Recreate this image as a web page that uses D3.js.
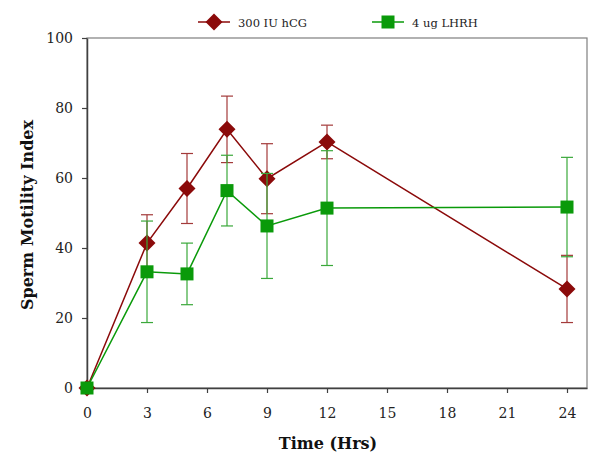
<!DOCTYPE html>
<html><head><meta charset="utf-8">
<script src="https://cdn.jsdelivr.net/npm/d3@7"></script>
<style>body{margin:0;background:#fff}svg{display:block}</style>
</head><body>
<script>
const times = [0, 3, 5, 7, 9, 12, 24];
const hcgMean = [0, 41.4, 57.0, 73.9, 59.8, 70.3, 28.3];
const hcgErr  = [0, 8.1, 10.0, 9.5, 10.0, 4.8, 9.6];
const lhrhMean = [0, 33.2, 32.6, 56.4, 46.3, 51.4, 51.7];
const lhrhErr  = [0, 14.5, 8.8, 10.1, 15.0, 16.4, 14.2];
const xTicks = [0, 3, 6, 9, 12, 15, 18, 21, 24];
const yTicks = [0, 20, 40, 60, 80, 100];
const seriesNames = ["300 IU hCG", "4 ug LHRH"];

const W = 600, H = 463;
const m = {l: 87, r: 13, t: 38, b: 75};
const svg = d3.select("body").append("svg").attr("width", W).attr("height", H);
const x = d3.scaleLinear().domain([0, 25]).range([m.l, W - m.r]);
const y = d3.scaleLinear().domain([0, 100]).range([H - m.b, m.t]);
const font = "'DejaVu Serif', serif";

// frame
svg.append("rect").attr("x", x(0)).attr("y", y(100)).attr("width", x(25) - x(0)).attr("height", y(0) - y(100))
  .attr("fill", "none").attr("stroke", "#7f7f7f").attr("stroke-width", 1.2);

const xAxis = svg.append("g").attr("transform", `translate(0,${y(0)})`)
  .call(d3.axisBottom(x).tickValues(xTicks).tickSize(5).tickPadding(15).tickSizeOuter(0));
const yAxis = svg.append("g").attr("transform", `translate(${x(0)},0)`)
  .call(d3.axisLeft(y).tickValues(yTicks).tickSize(5).tickPadding(9).tickSizeOuter(0));
[xAxis, yAxis].forEach(a => {
  a.select(".domain").attr("stroke", "#404040").attr("stroke-width", 1.5);
  a.selectAll(".tick line").attr("stroke", "#404040").attr("stroke-width", 1.2);
  a.selectAll(".tick text").attr("font-family", font).attr("font-size", 14).attr("fill", "#222");
});

const series = [
  {name: seriesNames[0], mean: hcgMean, err: hcgErr, color: "#8b0a0a", ecol: "#a33a3a", shape: "diamond"},
  {name: seriesNames[1], mean: lhrhMean, err: lhrhErr, color: "#0a9a0a", ecol: "#3aa83a", shape: "square"}
];
function drawMarker(g, s, cx, cy) {
  if (s.shape === "diamond") {
    g.append("path").attr("d", `M${cx},${cy-8.5}L${cx+8.5},${cy}L${cx},${cy+8.5}L${cx-8.5},${cy}Z`).attr("fill", s.color);
  } else {
    g.append("rect").attr("x", cx - 6.5).attr("y", cy - 6.5).attr("width", 13).attr("height", 13).attr("fill", s.color);
  }
}
const line = d3.line().x(d => x(d[0])).y(d => y(d[1]));
series.forEach(s => {
  const g = svg.append("g");
  const pts = times.map((t, i) => [t, s.mean[i], s.err[i]]);
  pts.forEach(p => {
    if (p[2] <= 0) return;
    const cx = x(p[0]);
    g.append("line").attr("x1", cx).attr("x2", cx).attr("y1", y(p[1] - p[2])).attr("y2", y(p[1] + p[2]))
      .attr("stroke", s.ecol).attr("stroke-width", 1.2);
    [p[1] - p[2], p[1] + p[2]].forEach(v => g.append("line").attr("x1", cx - 6).attr("x2", cx + 6)
      .attr("y1", y(v)).attr("y2", y(v)).attr("stroke", s.ecol).attr("stroke-width", 1.2));
  });
  g.append("path").datum(pts).attr("d", line).attr("fill", "none").attr("stroke", s.color).attr("stroke-width", 1.5);
  pts.forEach(p => drawMarker(g, s, x(p[0]), y(p[1])));
});

// legend
const legX = [198, 372];
series.forEach((s, i) => {
  const g = svg.append("g");
  g.append("line").attr("x1", legX[i]).attr("x2", legX[i] + 32).attr("y1", 22).attr("y2", 22).attr("stroke", s.color).attr("stroke-width", 1.5);
  drawMarker(g, s, legX[i] + 16, 22);
  g.append("text").attr("x", legX[i] + 40).attr("y", 26.5).text(s.name)
    .attr("font-family", font).attr("font-size", 11.5).attr("fill", "#222");
});

svg.append("text").attr("x", 328).attr("y", 449).attr("text-anchor", "middle").text("Time (Hrs)")
  .attr("font-family", font).attr("font-weight", "bold").attr("font-size", 16).attr("fill", "#111");
svg.append("text").attr("transform", `translate(33,215) rotate(-90)`).attr("text-anchor", "middle").text("Sperm Motility Index")
  .attr("font-family", font).attr("font-weight", "bold").attr("font-size", 16).attr("fill", "#111");
</script>
</body></html>
